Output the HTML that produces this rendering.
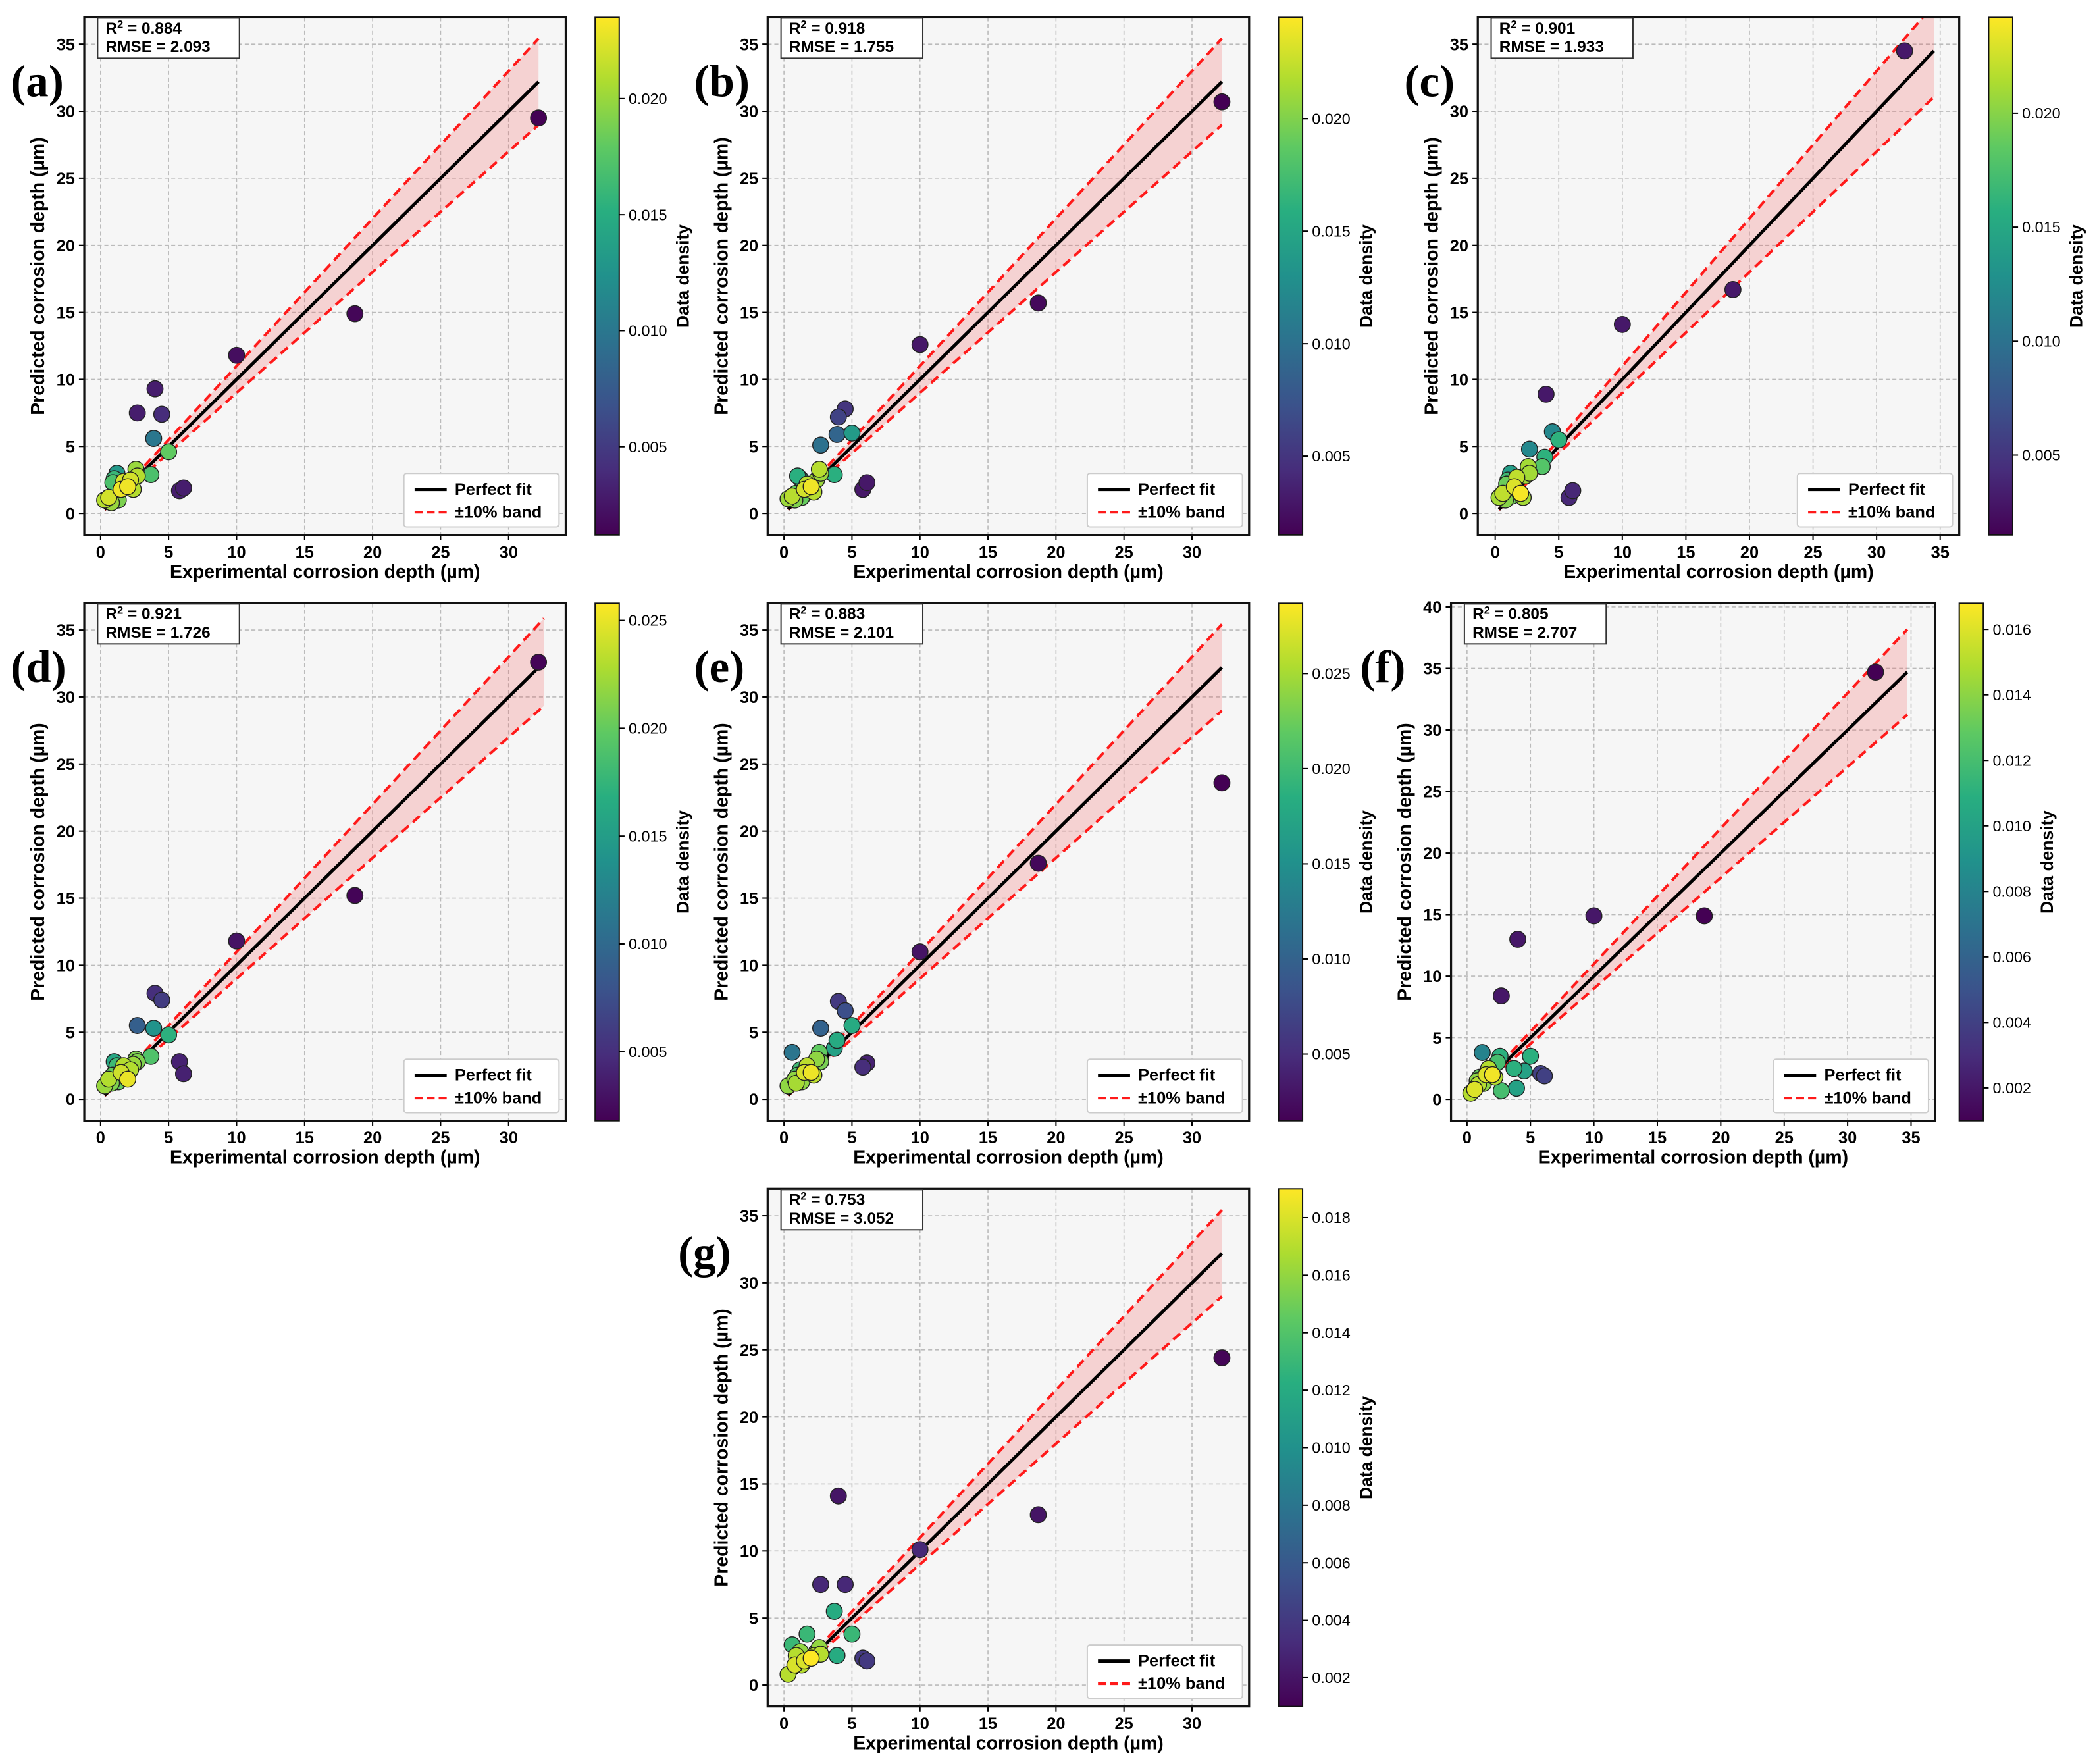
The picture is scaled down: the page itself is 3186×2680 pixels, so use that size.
<!DOCTYPE html>
<html><head><meta charset="utf-8"><style>
html,body{margin:0;padding:0;background:#fff}
svg{display:block}
text{font-family:"Liberation Sans",sans-serif}
text.tag{font-family:"Liberation Serif",serif}
</style></head><body>
<svg id="fig" xmlns="http://www.w3.org/2000/svg" width="3186" height="2680" viewBox="0 0 1568 1319">
<defs>
<linearGradient id="vir" x1="0" y1="1" x2="0" y2="0">
<stop offset="0" stop-color="#440154"/><stop offset="0.125" stop-color="#472d7b"/><stop offset="0.25" stop-color="#3b528b"/><stop offset="0.375" stop-color="#2c728e"/><stop offset="0.5" stop-color="#21918c"/><stop offset="0.625" stop-color="#28ae80"/><stop offset="0.75" stop-color="#5ec962"/><stop offset="0.875" stop-color="#addc30"/><stop offset="1" stop-color="#fde725"/>
</linearGradient>
</defs>
</svg>
<script>
// Shared experimental values
const expX = [0.3,0.6,0.8,1.0,1.2,0.9,1.5,1.7,2.0,2.2,2.4,2.6,2.7,1.3,3.7,3.9,2.7,4.0,4.5,5.0,5.8,6.1,10.0,18.7,32.2];
// Predicted values per panel
const predA = [1.0,1.2,0.8,2.6,3.0,2.3,1.8,2.4,2.0,2.5,1.8,3.3,2.8,1.0,2.9,5.6,7.5,9.3,7.4,4.6,1.7,1.9,11.8,14.9,29.5];
const predB = [1.1,1.3,1.0,2.8,2.6,1.5,1.8,2.2,2.0,1.6,2.5,3.3,3.0,1.2,2.9,5.9,5.1,7.2,7.8,6.0,1.8,2.3,12.6,15.7,30.7];
const predC = [1.2,1.5,1.0,2.5,3.0,2.2,2.0,2.7,1.5,1.2,2.8,3.5,3.0,1.3,3.5,4.2,4.8,8.9,6.1,5.5,1.2,1.7,14.1,16.7,34.5];
const predD = [1.0,1.5,1.2,2.8,2.5,1.8,2.0,2.5,1.5,2.2,2.6,3.0,2.8,1.3,3.2,5.3,5.5,7.9,7.4,4.8,2.8,1.9,11.8,15.2,32.6];
const predE = [1.0,3.5,1.5,1.8,2.2,1.2,2.0,2.5,2.0,1.8,3.0,3.5,2.8,1.3,3.8,4.4,5.3,7.3,6.6,5.5,2.4,2.7,11.0,17.6,23.6];
const predF = [0.5,0.8,1.5,1.8,3.8,1.2,2.0,2.5,2.0,1.8,3.0,3.5,0.7,1.3,2.5,0.9,8.4,13.0,2.3,3.5,2.1,1.9,14.9,14.9,34.7];
const predG = [0.8,3.0,1.5,2.0,2.5,2.2,1.8,3.8,2.0,2.2,2.5,2.8,2.3,1.5,5.5,2.2,7.5,14.1,7.5,3.8,2.0,1.8,10.1,12.7,24.4];
// Densities per panel
const densA = [0.021,0.022,0.020,0.016,0.013,0.017,0.023,0.022,0.023,0.022,0.021,0.020,0.021,0.019,0.017,0.010,0.003,0.003,0.004,0.018,0.003,0.003,0.002,0.0015,0.0012];
const densB = [0.021,0.022,0.020,0.016,0.015,0.019,0.023,0.022,0.024,0.022,0.021,0.022,0.021,0.019,0.016,0.009,0.010,0.006,0.005,0.014,0.003,0.003,0.003,0.002,0.0015];
const densC = [0.021,0.022,0.020,0.017,0.014,0.019,0.023,0.022,0.024,0.021,0.021,0.021,0.021,0.019,0.018,0.016,0.012,0.003,0.012,0.016,0.004,0.004,0.003,0.003,0.003];
const densD = [0.022,0.023,0.021,0.016,0.018,0.020,0.024,0.023,0.025,0.023,0.022,0.021,0.021,0.020,0.019,0.014,0.009,0.005,0.006,0.017,0.004,0.004,0.003,0.002,0.002];
const densE = [0.024,0.012,0.024,0.021,0.020,0.025,0.027,0.026,0.028,0.026,0.024,0.022,0.023,0.024,0.017,0.018,0.010,0.006,0.008,0.018,0.005,0.004,0.003,0.002,0.0015];
const densF = [0.015,0.016,0.014,0.013,0.008,0.015,0.016,0.015,0.0165,0.015,0.012,0.011,0.012,0.014,0.011,0.010,0.002,0.002,0.010,0.011,0.004,0.004,0.002,0.001,0.001];
const densG = [0.017,0.013,0.018,0.017,0.016,0.017,0.018,0.013,0.019,0.017,0.016,0.016,0.017,0.017,0.012,0.012,0.003,0.002,0.003,0.013,0.004,0.004,0.003,0.002,0.0012];
// Metrics
const r2Vals = ["0.884","0.918","0.901","0.921","0.883","0.805","0.753"];
const rmseVals = ["2.093","1.755","1.933","1.726","2.101","2.707","3.052"];
const panelTags = ["(a)","(b)","(c)","(d)","(e)","(f)","(g)"];
// Colorbar ticks per panel
const cbTicksA = [0.005,0.010,0.015,0.020];
const cbTicksB = [0.005,0.010,0.015,0.020];
const cbTicksC = [0.005,0.010,0.015,0.020];
const cbTicksD = [0.005,0.010,0.015,0.020,0.025];
const cbTicksE = [0.005,0.010,0.015,0.020,0.025];
const cbTicksF = [0.002,0.004,0.006,0.008,0.010,0.012,0.014,0.016];
const cbTicksG = [0.002,0.004,0.006,0.008,0.010,0.012,0.014,0.016,0.018];
const cbRange = [[0.0012,0.0235],[0.0015,0.0245],[0.0015,0.0242],[0.0018,0.0258],[0.0015,0.0287],[0.0010,0.0168],[0.0010,0.0190]];
const xTicksStd = [0,5,10,15,20,25,30];
const xTicksWide = [0,5,10,15,20,25,30,35];
const yTicksStd = [0,5,10,15,20,25,30,35];
const yTicksF = [0,5,10,15,20,25,30,35,40];

const NS="http://www.w3.org/2000/svg";
const svg=document.getElementById('fig');
const defs=svg.querySelector('defs');
function mk(tag,attrs,parent){const e=document.createElementNS(NS,tag);for(const k in attrs)e.setAttribute(k,attrs[k]);(parent||svg).appendChild(e);return e;}
const vstops=[[0,[68,1,84]],[0.125,[71,45,123]],[0.25,[59,82,139]],[0.375,[44,114,142]],[0.5,[33,145,140]],[0.625,[40,174,128]],[0.75,[94,201,98]],[0.875,[173,220,48]],[1,[253,231,37]]];
function viridis(t){t=Math.max(0,Math.min(1,t));for(let i=1;i<vstops.length;i++){if(t<=vstops[i][0]){const a=vstops[i-1],b=vstops[i];const f=(t-a[0])/(b[0]-a[0]);const c=a[1].map((v,j)=>Math.round(v+(b[1][j]-v)*f));return `rgb(${c[0]},${c[1]},${c[2]})`;}}return 'rgb(253,231,37)';}

const panels=[
 {L:63,T:13,W:360,H:387,xl:[-1.2,34.2],yl:[-1.6,37.0],pred:predA,dens:densA,cbt:cbTicksA,xt:xTicksStd,yt:yTicksStd,tag:[8,72]},
 {L:574,T:13,W:360,H:387,xl:[-1.2,34.2],yl:[-1.6,37.0],pred:predB,dens:densB,cbt:cbTicksB,xt:xTicksStd,yt:yTicksStd,tag:[519,72]},
 {L:1105,T:13,W:360,H:387,xl:[-1.37,36.5],yl:[-1.6,37.0],pred:predC,dens:densC,cbt:cbTicksC,xt:xTicksWide,yt:yTicksStd,tag:[1050,72]},
 {L:63,T:451,W:360,H:387,xl:[-1.2,34.2],yl:[-1.6,37.0],pred:predD,dens:densD,cbt:cbTicksD,xt:xTicksStd,yt:yTicksStd,tag:[8,510]},
 {L:574,T:451,W:360,H:387,xl:[-1.2,34.2],yl:[-1.6,37.0],pred:predE,dens:densE,cbt:cbTicksE,xt:xTicksStd,yt:yTicksStd,tag:[519,510]},
 {L:1085,T:451,W:362,H:387,xl:[-1.26,36.9],yl:[-1.74,40.3],pred:predF,dens:densF,cbt:cbTicksF,xt:xTicksWide,yt:yTicksF,tag:[1017,510]},
 {L:574,T:889,W:360,H:387,xl:[-1.2,34.2],yl:[-1.6,37.0],pred:predG,dens:densG,cbt:cbTicksG,xt:xTicksStd,yt:yTicksStd,tag:[507,948]}
];
const letters="abcdefg";
panels.forEach((p,pi)=>{
 const g=mk('g',{});
 
 
 const cp=mk('clipPath',{id:'clip'+pi},defs);
 mk('rect',{x:p.L,y:p.T,width:p.W,height:p.H},cp);
 const sx=v=>p.L+(v-p.xl[0])/(p.xl[1]-p.xl[0])*p.W;
 const sy=v=>p.T+p.H-(v-p.yl[0])/(p.yl[1]-p.yl[0])*p.H;
 const bg=mk('rect',{x:p.L,y:p.T,width:p.W,height:p.H,fill:'#f6f6f6'},g);
 
 
 p.xt.forEach(t=>{const x=sx(t);
  mk('line',{x1:x,x2:x,y1:p.T,y2:p.T+p.H,stroke:'#bbb','stroke-width':0.8,'stroke-dasharray':'3,2'},g);
  mk('line',{x1:x,x2:x,y1:p.T+p.H,y2:p.T+p.H+4,stroke:'#000','stroke-width':1},g);
  const tx=mk('text',{x:x,y:p.T+p.H+17,'text-anchor':'middle','font-size':12.5,'font-weight':'bold'},g);tx.textContent=t;
  
  
 });
 p.yt.forEach(t=>{const y=sy(t);
  mk('line',{x1:p.L,x2:p.L+p.W,y1:y,y2:y,stroke:'#bbb','stroke-width':0.8,'stroke-dasharray':'3,2'},g);
  mk('line',{x1:p.L-4,x2:p.L,y1:y,y2:y,stroke:'#000','stroke-width':1},g);
  const tx=mk('text',{x:p.L-7,y:y+4.5,'text-anchor':'end','font-size':12.5,'font-weight':'bold'},g);tx.textContent=t;
  
  
 });
 const inner=mk('g',{'clip-path':`url(#clip${pi})`},g);
 const lo=Math.min(...expX), hi=Math.max(Math.max(...expX),Math.max(...p.pred));
 const band=mk('polygon',{points:`${sx(lo)},${sy(lo*1.1)} ${sx(hi)},${sy(hi*1.1)} ${sx(hi)},${sy(hi*0.9)} ${sx(lo)},${sy(lo*0.9)}`,fill:'rgba(240,80,80,0.22)'},inner);
 
 
 const up=mk('line',{x1:sx(lo),y1:sy(lo*1.1),x2:sx(hi),y2:sy(hi*1.1),stroke:'#ff1a1a','stroke-width':2,'stroke-dasharray':'7,4'},inner);
 
 
 const dn=mk('line',{x1:sx(lo),y1:sy(lo*0.9),x2:sx(hi),y2:sy(hi*0.9),stroke:'#ff1a1a','stroke-width':2,'stroke-dasharray':'7,4'},inner);
 
 
 const pf=mk('line',{x1:sx(lo),y1:sy(lo),x2:sx(hi),y2:sy(hi),stroke:'#000','stroke-width':2.4},inner);
 
 
 const [vmin,vmax]=cbRange[pi];
 const idx=expX.map((_,i)=>i).sort((a,b)=>p.dens[a]-p.dens[b]);
 idx.forEach(i=>{
  const c=mk('circle',{cx:sx(expX[i]),cy:sy(p.pred[i]),r:6,fill:viridis((p.dens[i]-vmin)/(vmax-vmin)),stroke:'#222','stroke-width':0.7},g);
  
  
 });
 mk('rect',{x:p.L,y:p.T,width:p.W,height:p.H,fill:'none',stroke:'#111','stroke-width':1.6},g);
 const mb=mk('g',{},g);
 
 
 mk('rect',{x:p.L+10,y:p.T+0.5,width:106,height:30,fill:'#fff',stroke:'#333','stroke-width':1},mb);
 const t1=mk('text',{x:p.L+16,y:p.T+12,'font-size':12,'font-weight':'bold'},mb);t1.innerHTML='R<tspan dy="-4" font-size="8">2</tspan><tspan dy="4"> = '+r2Vals[pi]+'</tspan>';
 const t2=mk('text',{x:p.L+16,y:p.T+26,'font-size':12,'font-weight':'bold'},mb);t2.textContent='RMSE = '+rmseVals[pi];
 const lg=mk('g',{},g);
 
 
 const lx=p.L+p.W-121, ly=p.T+p.H-46;
 mk('rect',{x:lx,y:ly,width:116,height:40,fill:'#fff',stroke:'#ccc','stroke-width':1,rx:2},lg);
 mk('line',{x1:lx+8,x2:lx+32,y1:ly+12,y2:ly+12,stroke:'#000','stroke-width':2.4},lg);
 mk('line',{x1:lx+8,x2:lx+32,y1:ly+29,y2:ly+29,stroke:'#ff1a1a','stroke-width':2,'stroke-dasharray':'6,3'},lg);
 const l1=mk('text',{x:lx+38,y:ly+16,'font-size':12.5,'font-weight':'bold'},lg);l1.textContent='Perfect fit';
 
 
 const l2=mk('text',{x:lx+38,y:ly+33,'font-size':12.5,'font-weight':'bold'},lg);l2.textContent='±10% band';
 
 
 const xa=mk('text',{x:p.L+p.W/2,y:p.T+p.H+32,'text-anchor':'middle','font-size':14,'font-weight':'bold'},g);xa.textContent='Experimental corrosion depth (µm)';
 
 
 const ya=mk('text',{x:0,y:0,'text-anchor':'middle','font-size':14,'font-weight':'bold',transform:`translate(${p.L-30},${p.T+p.H/2}) rotate(-90)`},g);ya.textContent='Predicted corrosion depth (µm)';
 
 
 const cbx=p.L+p.W+(pi===5?18:22), cbw=18;
 const cb=mk('g',{},g);
 
 
 mk('rect',{x:cbx,y:p.T,width:cbw,height:p.H,fill:'url(#vir)',stroke:'#111','stroke-width':1},cb);
 p.cbt.forEach(t=>{const y=p.T+p.H-(t-vmin)/(vmax-vmin)*p.H;
  mk('line',{x1:cbx+cbw,x2:cbx+cbw+4,y1:y,y2:y,stroke:'#000','stroke-width':1},cb);
  const tx=mk('text',{x:cbx+cbw+7,y:y+4,'font-size':11.5},cb);tx.textContent=t.toFixed(3);
  
  
 });
 const cbl=mk('text',{x:0,y:0,'text-anchor':'middle','font-size':13,'font-weight':'bold',transform:`translate(${cbx+cbw+52},${p.T+p.H/2}) rotate(-90)`},cb);cbl.textContent='Data density';
 
 
 const tg=mk('text',{x:p.tag[0],y:p.tag[1],'font-size':34,'font-weight':'bold','class':'tag'},g);tg.textContent=panelTags[pi];
 
 
});
</script>
</body></html>
